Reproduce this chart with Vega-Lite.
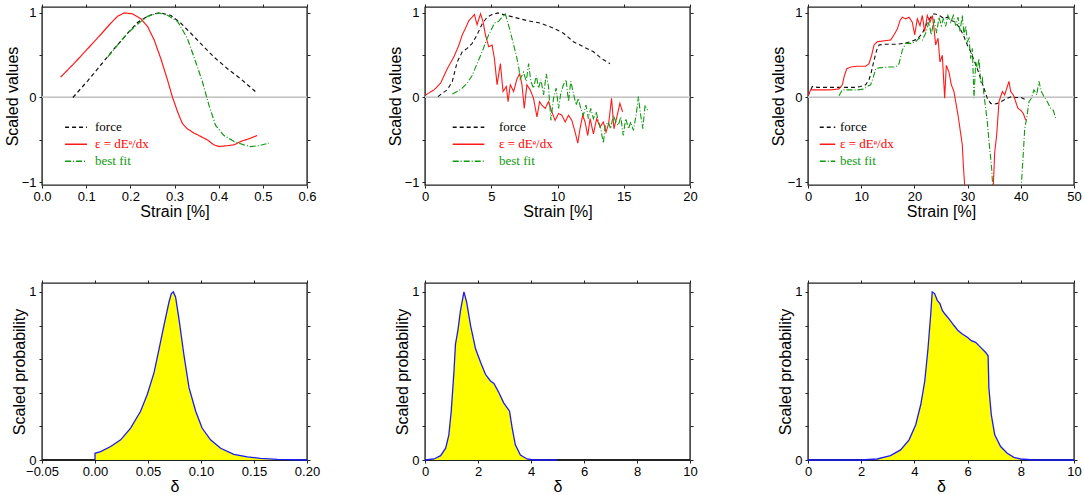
{
  "$schema": "https://vega.github.io/schema/vega-lite/v6.json",
  "padding": {"left": 3, "top": 2, "right": 0, "bottom": 0},
  "background": "white",
  "config": {
    "font": "Liberation Sans",
    "view": {"stroke": "#222222", "strokeWidth": 1.4},
    "axis": {
      "domain": false,
      "grid": false,
      "tickColor": "#222222",
      "tickSize": 3,
      "tickWidth": 1,
      "labelPadding": 3,
      "labelFont": "Liberation Sans",
      "labelFontSize": 13,
      "labelColor": "black",
      "labelFlush": false,
      "labelOverlap": false,
      "titleFont": "Liberation Sans",
      "titleFontSize": 16,
      "titleFontWeight": "normal",
      "titleColor": "black",
      "titlePadding": 2
    },
    "axisBottom": {"labelPadding": 2, "titlePadding": 0},
    "legend": {
      "orient": "none",
      "title": null,
      "symbolType": "stroke",
      "symbolStrokeWidth": 1.3,
      "labelFont": "Liberation Serif",
      "labelFontSize": 13,
      "rowPadding": 0,
      "clipHeight": 16.5,
      "labelColor": {"expr": "datum.label == 'force' ? 'black' : datum.label == 'best fit' ? '#119911' : '#ff0000'"}
    }
  },
  "resolve": {
    "scale": {"color": "independent", "strokeDash": "independent"},
    "legend": {"color": "independent", "strokeDash": "independent"}
  },
  "datasets": {
    "t1": [
      {"s": "force", "x": 0.070, "y": 0.0},
      {"s": "force", "x": 0.104, "y": 0.20},
      {"s": "force", "x": 0.134, "y": 0.39},
      {"s": "force", "x": 0.164, "y": 0.58},
      {"s": "force", "x": 0.194, "y": 0.76},
      {"s": "force", "x": 0.217, "y": 0.89},
      {"s": "force", "x": 0.239, "y": 0.96},
      {"s": "force", "x": 0.254, "y": 0.99},
      {"s": "force", "x": 0.269, "y": 1.0},
      {"s": "force", "x": 0.292, "y": 0.97},
      {"s": "force", "x": 0.314, "y": 0.88},
      {"s": "force", "x": 0.337, "y": 0.76},
      {"s": "force", "x": 0.359, "y": 0.64},
      {"s": "force", "x": 0.389, "y": 0.48},
      {"s": "force", "x": 0.420, "y": 0.34},
      {"s": "force", "x": 0.450, "y": 0.22},
      {"s": "force", "x": 0.483, "y": 0.07},
      {"s": "ε = dEᵉ/dx", "x": 0.042, "y": 0.24},
      {"s": "ε = dEᵉ/dx", "x": 0.074, "y": 0.41},
      {"s": "ε = dEᵉ/dx", "x": 0.104, "y": 0.58},
      {"s": "ε = dEᵉ/dx", "x": 0.134, "y": 0.75},
      {"s": "ε = dEᵉ/dx", "x": 0.156, "y": 0.88},
      {"s": "ε = dEᵉ/dx", "x": 0.171, "y": 0.96},
      {"s": "ε = dEᵉ/dx", "x": 0.186, "y": 1.0},
      {"s": "ε = dEᵉ/dx", "x": 0.205, "y": 0.99},
      {"s": "ε = dEᵉ/dx", "x": 0.224, "y": 0.93},
      {"s": "ε = dEᵉ/dx", "x": 0.239, "y": 0.84},
      {"s": "ε = dEᵉ/dx", "x": 0.254, "y": 0.68},
      {"s": "ε = dEᵉ/dx", "x": 0.269, "y": 0.46},
      {"s": "ε = dEᵉ/dx", "x": 0.284, "y": 0.21},
      {"s": "ε = dEᵉ/dx", "x": 0.295, "y": 0.01},
      {"s": "ε = dEᵉ/dx", "x": 0.307, "y": -0.17},
      {"s": "ε = dEᵉ/dx", "x": 0.318, "y": -0.31},
      {"s": "ε = dEᵉ/dx", "x": 0.329, "y": -0.37},
      {"s": "ε = dEᵉ/dx", "x": 0.344, "y": -0.42},
      {"s": "ε = dEᵉ/dx", "x": 0.359, "y": -0.46},
      {"s": "ε = dEᵉ/dx", "x": 0.374, "y": -0.50},
      {"s": "ε = dEᵉ/dx", "x": 0.389, "y": -0.56},
      {"s": "ε = dEᵉ/dx", "x": 0.401, "y": -0.58},
      {"s": "ε = dEᵉ/dx", "x": 0.420, "y": -0.57},
      {"s": "ε = dEᵉ/dx", "x": 0.435, "y": -0.56},
      {"s": "ε = dEᵉ/dx", "x": 0.450, "y": -0.52},
      {"s": "ε = dEᵉ/dx", "x": 0.468, "y": -0.49},
      {"s": "ε = dEᵉ/dx", "x": 0.487, "y": -0.45},
      {"s": "best fit", "x": 0.149, "y": 0.48},
      {"s": "best fit", "x": 0.171, "y": 0.62},
      {"s": "best fit", "x": 0.194, "y": 0.76},
      {"s": "best fit", "x": 0.217, "y": 0.87},
      {"s": "best fit", "x": 0.239, "y": 0.96},
      {"s": "best fit", "x": 0.265, "y": 1.0},
      {"s": "best fit", "x": 0.285, "y": 0.97},
      {"s": "best fit", "x": 0.307, "y": 0.90},
      {"s": "best fit", "x": 0.329, "y": 0.70},
      {"s": "best fit", "x": 0.348, "y": 0.42},
      {"s": "best fit", "x": 0.363, "y": 0.19},
      {"s": "best fit", "x": 0.378, "y": -0.09},
      {"s": "best fit", "x": 0.393, "y": -0.33},
      {"s": "best fit", "x": 0.412, "y": -0.45},
      {"s": "best fit", "x": 0.435, "y": -0.52},
      {"s": "best fit", "x": 0.457, "y": -0.56},
      {"s": "best fit", "x": 0.472, "y": -0.58},
      {"s": "best fit", "x": 0.491, "y": -0.57},
      {"s": "best fit", "x": 0.514, "y": -0.54}
    ],
    "t2": [
      {"s": "force", "x": 0.98, "y": 0.01},
      {"s": "force", "x": 1.3, "y": 0.05},
      {"s": "force", "x": 1.68, "y": 0.09},
      {"s": "force", "x": 2.06, "y": 0.19},
      {"s": "force", "x": 2.43, "y": 0.42},
      {"s": "force", "x": 2.81, "y": 0.54},
      {"s": "force", "x": 3.18, "y": 0.58},
      {"s": "force", "x": 3.56, "y": 0.64},
      {"s": "force", "x": 3.93, "y": 0.74},
      {"s": "force", "x": 4.31, "y": 0.87},
      {"s": "force", "x": 4.69, "y": 0.95},
      {"s": "force", "x": 5.06, "y": 0.98},
      {"s": "force", "x": 5.49, "y": 1.0},
      {"s": "force", "x": 5.94, "y": 0.98},
      {"s": "force", "x": 6.69, "y": 0.95},
      {"s": "force", "x": 7.69, "y": 0.91},
      {"s": "force", "x": 8.70, "y": 0.88},
      {"s": "force", "x": 9.70, "y": 0.82},
      {"s": "force", "x": 10.45, "y": 0.76},
      {"s": "force", "x": 11.2, "y": 0.66},
      {"s": "force", "x": 11.95, "y": 0.60},
      {"s": "force", "x": 12.71, "y": 0.54},
      {"s": "force", "x": 13.33, "y": 0.46},
      {"s": "force", "x": 13.96, "y": 0.40},
      {"s": "ε = dEᵉ/dx", "x": 0.05, "y": 0.03},
      {"s": "ε = dEᵉ/dx", "x": 0.68, "y": 0.09},
      {"s": "ε = dEᵉ/dx", "x": 1.18, "y": 0.17},
      {"s": "ε = dEᵉ/dx", "x": 1.68, "y": 0.34},
      {"s": "ε = dEᵉ/dx", "x": 2.18, "y": 0.48},
      {"s": "ε = dEᵉ/dx", "x": 2.56, "y": 0.62},
      {"s": "ε = dEᵉ/dx", "x": 2.81, "y": 0.74},
      {"s": "ε = dEᵉ/dx", "x": 3.06, "y": 0.82},
      {"s": "ε = dEᵉ/dx", "x": 3.31, "y": 0.91},
      {"s": "ε = dEᵉ/dx", "x": 3.56, "y": 0.95},
      {"s": "ε = dEᵉ/dx", "x": 3.73, "y": 0.98},
      {"s": "ε = dEᵉ/dx", "x": 3.93, "y": 0.86},
      {"s": "ε = dEᵉ/dx", "x": 4.19, "y": 0.99},
      {"s": "ε = dEᵉ/dx", "x": 4.39, "y": 0.89},
      {"s": "ε = dEᵉ/dx", "x": 4.56, "y": 0.74},
      {"s": "ε = dEᵉ/dx", "x": 4.81, "y": 0.60},
      {"s": "ε = dEᵉ/dx", "x": 5.06, "y": 0.62},
      {"s": "ε = dEᵉ/dx", "x": 5.24, "y": 0.46},
      {"s": "ε = dEᵉ/dx", "x": 5.44, "y": 0.15},
      {"s": "ε = dEᵉ/dx", "x": 5.69, "y": 0.40},
      {"s": "ε = dEᵉ/dx", "x": 5.89, "y": 0.07},
      {"s": "ε = dEᵉ/dx", "x": 6.14, "y": 0.13},
      {"s": "ε = dEᵉ/dx", "x": 6.27, "y": -0.05},
      {"s": "ε = dEᵉ/dx", "x": 6.44, "y": 0.15},
      {"s": "ε = dEᵉ/dx", "x": 6.69, "y": 0.07},
      {"s": "ε = dEᵉ/dx", "x": 6.94, "y": 0.22},
      {"s": "ε = dEᵉ/dx", "x": 7.14, "y": 0.28},
      {"s": "ε = dEᵉ/dx", "x": 7.32, "y": 0.15},
      {"s": "ε = dEᵉ/dx", "x": 7.49, "y": -0.13},
      {"s": "ε = dEᵉ/dx", "x": 7.69, "y": 0.15},
      {"s": "ε = dEᵉ/dx", "x": 7.94, "y": 0.09},
      {"s": "ε = dEᵉ/dx", "x": 8.19, "y": -0.01},
      {"s": "ε = dEᵉ/dx", "x": 8.45, "y": -0.23},
      {"s": "ε = dEᵉ/dx", "x": 8.65, "y": -0.05},
      {"s": "ε = dEᵉ/dx", "x": 8.82, "y": -0.09},
      {"s": "ε = dEᵉ/dx", "x": 9.07, "y": -0.13},
      {"s": "ε = dEᵉ/dx", "x": 9.32, "y": -0.05},
      {"s": "ε = dEᵉ/dx", "x": 9.57, "y": -0.17},
      {"s": "ε = dEᵉ/dx", "x": 9.82, "y": -0.27},
      {"s": "ε = dEᵉ/dx", "x": 10.08, "y": -0.19},
      {"s": "ε = dEᵉ/dx", "x": 10.33, "y": -0.21},
      {"s": "ε = dEᵉ/dx", "x": 10.58, "y": -0.29},
      {"s": "ε = dEᵉ/dx", "x": 10.83, "y": -0.21},
      {"s": "ε = dEᵉ/dx", "x": 11.08, "y": -0.27},
      {"s": "ε = dEᵉ/dx", "x": 11.33, "y": -0.41},
      {"s": "ε = dEᵉ/dx", "x": 11.53, "y": -0.54},
      {"s": "ε = dEᵉ/dx", "x": 11.70, "y": -0.37},
      {"s": "ε = dEᵉ/dx", "x": 11.90, "y": -0.21},
      {"s": "ε = dEᵉ/dx", "x": 12.08, "y": -0.29},
      {"s": "ε = dEᵉ/dx", "x": 12.28, "y": -0.45},
      {"s": "ε = dEᵉ/dx", "x": 12.46, "y": -0.25},
      {"s": "ε = dEᵉ/dx", "x": 12.71, "y": -0.43},
      {"s": "ε = dEᵉ/dx", "x": 12.96, "y": -0.25},
      {"s": "ε = dEᵉ/dx", "x": 13.21, "y": -0.35},
      {"s": "ε = dEᵉ/dx", "x": 13.46, "y": -0.29},
      {"s": "ε = dEᵉ/dx", "x": 13.66, "y": -0.41},
      {"s": "ε = dEᵉ/dx", "x": 13.86, "y": -0.31},
      {"s": "ε = dEᵉ/dx", "x": 14.08, "y": -0.01},
      {"s": "ε = dEᵉ/dx", "x": 14.26, "y": -0.37},
      {"s": "ε = dEᵉ/dx", "x": 14.51, "y": -0.21},
      {"s": "ε = dEᵉ/dx", "x": 14.71, "y": -0.07},
      {"s": "ε = dEᵉ/dx", "x": 14.91, "y": -0.17},
      {"s": "best fit", "x": 2.06, "y": 0.04},
      {"s": "best fit", "x": 2.43, "y": 0.07},
      {"s": "best fit", "x": 2.81, "y": 0.11},
      {"s": "best fit", "x": 3.18, "y": 0.17},
      {"s": "best fit", "x": 3.56, "y": 0.26},
      {"s": "best fit", "x": 3.93, "y": 0.40},
      {"s": "best fit", "x": 4.31, "y": 0.54},
      {"s": "best fit", "x": 4.69, "y": 0.70},
      {"s": "best fit", "x": 4.94, "y": 0.78},
      {"s": "best fit", "x": 5.24, "y": 0.88},
      {"s": "best fit", "x": 5.56, "y": 0.90},
      {"s": "best fit", "x": 5.81, "y": 0.95},
      {"s": "best fit", "x": 6.06, "y": 0.99},
      {"s": "best fit", "x": 6.24, "y": 0.89},
      {"s": "best fit", "x": 6.44, "y": 0.78},
      {"s": "best fit", "x": 6.69, "y": 0.62},
      {"s": "best fit", "x": 6.89, "y": 0.50},
      {"s": "best fit", "x": 7.07, "y": 0.36},
      {"s": "best fit", "x": 7.19, "y": 0.22},
      {"s": "best fit", "x": 7.44, "y": 0.30},
      {"s": "best fit", "x": 7.64, "y": 0.19},
      {"s": "best fit", "x": 7.82, "y": 0.40},
      {"s": "best fit", "x": 7.99, "y": 0.19},
      {"s": "best fit", "x": 8.19, "y": 0.11},
      {"s": "best fit", "x": 8.40, "y": 0.26},
      {"s": "best fit", "x": 8.57, "y": 0.11},
      {"s": "best fit", "x": 8.75, "y": 0.21},
      {"s": "best fit", "x": 8.95, "y": 0.03},
      {"s": "best fit", "x": 9.15, "y": 0.28},
      {"s": "best fit", "x": 9.32, "y": 0.13},
      {"s": "best fit", "x": 9.50, "y": -0.27},
      {"s": "best fit", "x": 9.70, "y": -0.01},
      {"s": "best fit", "x": 9.90, "y": 0.11},
      {"s": "best fit", "x": 10.08, "y": -0.13},
      {"s": "best fit", "x": 10.25, "y": 0.05},
      {"s": "best fit", "x": 10.45, "y": 0.15},
      {"s": "best fit", "x": 10.65, "y": 0.21},
      {"s": "best fit", "x": 10.83, "y": -0.05},
      {"s": "best fit", "x": 11.0, "y": 0.19},
      {"s": "best fit", "x": 11.2, "y": 0.05},
      {"s": "best fit", "x": 11.4, "y": -0.09},
      {"s": "best fit", "x": 11.58, "y": -0.01},
      {"s": "best fit", "x": 11.75, "y": -0.13},
      {"s": "best fit", "x": 11.95, "y": -0.21},
      {"s": "best fit", "x": 12.15, "y": -0.09},
      {"s": "best fit", "x": 12.33, "y": -0.25},
      {"s": "best fit", "x": 12.51, "y": -0.13},
      {"s": "best fit", "x": 12.71, "y": -0.25},
      {"s": "best fit", "x": 12.91, "y": -0.17},
      {"s": "best fit", "x": 13.08, "y": -0.27},
      {"s": "best fit", "x": 13.26, "y": -0.37},
      {"s": "best fit", "x": 13.46, "y": -0.54},
      {"s": "best fit", "x": 13.61, "y": -0.33},
      {"s": "best fit", "x": 13.83, "y": -0.29},
      {"s": "best fit", "x": 14.01, "y": -0.37},
      {"s": "best fit", "x": 14.21, "y": -0.21},
      {"s": "best fit", "x": 14.41, "y": -0.29},
      {"s": "best fit", "x": 14.58, "y": -0.33},
      {"s": "best fit", "x": 14.78, "y": -0.23},
      {"s": "best fit", "x": 14.96, "y": -0.45},
      {"s": "best fit", "x": 15.15, "y": -0.25},
      {"s": "best fit", "x": 15.36, "y": -0.37},
      {"s": "best fit", "x": 15.53, "y": -0.29},
      {"s": "best fit", "x": 15.73, "y": -0.39},
      {"s": "best fit", "x": 15.93, "y": -0.21},
      {"s": "best fit", "x": 16.11, "y": 0.01},
      {"s": "best fit", "x": 16.24, "y": -0.17},
      {"s": "best fit", "x": 16.44, "y": -0.37},
      {"s": "best fit", "x": 16.61, "y": -0.09},
      {"s": "best fit", "x": 16.79, "y": -0.15}
    ],
    "t3": [
      {"s": "force", "x": 0.0, "y": 0.02},
      {"s": "force", "x": 0.81, "y": 0.13},
      {"s": "force", "x": 1.75, "y": 0.12},
      {"s": "force", "x": 3.63, "y": 0.12},
      {"s": "force", "x": 6.14, "y": 0.12},
      {"s": "force", "x": 8.65, "y": 0.12},
      {"s": "force", "x": 9.9, "y": 0.13},
      {"s": "force", "x": 10.84, "y": 0.15},
      {"s": "force", "x": 11.47, "y": 0.21},
      {"s": "force", "x": 11.9, "y": 0.30},
      {"s": "force", "x": 12.41, "y": 0.44},
      {"s": "force", "x": 12.91, "y": 0.56},
      {"s": "force", "x": 13.35, "y": 0.62},
      {"s": "force", "x": 14.29, "y": 0.63},
      {"s": "force", "x": 15.54, "y": 0.63},
      {"s": "force", "x": 16.79, "y": 0.63},
      {"s": "force", "x": 18.04, "y": 0.64},
      {"s": "force", "x": 19.3, "y": 0.66},
      {"s": "force", "x": 20.55, "y": 0.69},
      {"s": "force", "x": 21.49, "y": 0.76},
      {"s": "force", "x": 22.3, "y": 0.87},
      {"s": "force", "x": 23.06, "y": 0.95},
      {"s": "force", "x": 23.68, "y": 0.99},
      {"s": "force", "x": 24.31, "y": 0.98},
      {"s": "force", "x": 24.94, "y": 0.96},
      {"s": "force", "x": 25.56, "y": 0.93},
      {"s": "force", "x": 26.19, "y": 0.95},
      {"s": "force", "x": 26.82, "y": 0.91},
      {"s": "force", "x": 27.44, "y": 0.90},
      {"s": "force", "x": 28.07, "y": 0.86},
      {"s": "force", "x": 28.7, "y": 0.80},
      {"s": "force", "x": 29.32, "y": 0.72},
      {"s": "force", "x": 29.95, "y": 0.62},
      {"s": "force", "x": 30.58, "y": 0.54},
      {"s": "force", "x": 31.2, "y": 0.44},
      {"s": "force", "x": 31.83, "y": 0.34},
      {"s": "force", "x": 32.46, "y": 0.22},
      {"s": "force", "x": 33.08, "y": 0.11},
      {"s": "force", "x": 33.71, "y": -0.01},
      {"s": "force", "x": 34.34, "y": -0.07},
      {"s": "force", "x": 34.96, "y": -0.08},
      {"s": "force", "x": 35.59, "y": -0.07},
      {"s": "force", "x": 36.22, "y": -0.05},
      {"s": "force", "x": 36.84, "y": -0.03},
      {"s": "force", "x": 37.47, "y": -0.01},
      {"s": "force", "x": 38.22, "y": 0.01},
      {"s": "force", "x": 39.04, "y": 0.0},
      {"s": "force", "x": 40.0, "y": 0.0},
      {"s": "force", "x": 40.73, "y": -0.02},
      {"s": "ε = dEᵉ/dx", "x": 0.0, "y": 0.02},
      {"s": "ε = dEᵉ/dx", "x": 0.5, "y": 0.09},
      {"s": "ε = dEᵉ/dx", "x": 1.13, "y": 0.09},
      {"s": "ε = dEᵉ/dx", "x": 2.38, "y": 0.09},
      {"s": "ε = dEᵉ/dx", "x": 4.26, "y": 0.09},
      {"s": "ε = dEᵉ/dx", "x": 5.83, "y": 0.10},
      {"s": "ε = dEᵉ/dx", "x": 6.45, "y": 0.15},
      {"s": "ε = dEᵉ/dx", "x": 6.77, "y": 0.24},
      {"s": "ε = dEᵉ/dx", "x": 7.27, "y": 0.34},
      {"s": "ε = dEᵉ/dx", "x": 8.02, "y": 0.36},
      {"s": "ε = dEᵉ/dx", "x": 9.27, "y": 0.37},
      {"s": "ε = dEᵉ/dx", "x": 10.84, "y": 0.37},
      {"s": "ε = dEᵉ/dx", "x": 11.47, "y": 0.40},
      {"s": "ε = dEᵉ/dx", "x": 11.97, "y": 0.50},
      {"s": "ε = dEᵉ/dx", "x": 12.41, "y": 0.62},
      {"s": "ε = dEᵉ/dx", "x": 13.03, "y": 0.66},
      {"s": "ε = dEᵉ/dx", "x": 14.29, "y": 0.67},
      {"s": "ε = dEᵉ/dx", "x": 15.54, "y": 0.68},
      {"s": "ε = dEᵉ/dx", "x": 16.17, "y": 0.74},
      {"s": "ε = dEᵉ/dx", "x": 16.79, "y": 0.81},
      {"s": "ε = dEᵉ/dx", "x": 17.29, "y": 0.91},
      {"s": "ε = dEᵉ/dx", "x": 17.73, "y": 0.95},
      {"s": "ε = dEᵉ/dx", "x": 18.36, "y": 0.93},
      {"s": "ε = dEᵉ/dx", "x": 18.98, "y": 0.95},
      {"s": "ε = dEᵉ/dx", "x": 19.61, "y": 0.89},
      {"s": "ε = dEᵉ/dx", "x": 20.05, "y": 0.74},
      {"s": "ε = dEᵉ/dx", "x": 20.55, "y": 0.93},
      {"s": "ε = dEᵉ/dx", "x": 21.05, "y": 0.85},
      {"s": "ε = dEᵉ/dx", "x": 21.49, "y": 0.97},
      {"s": "ε = dEᵉ/dx", "x": 21.93, "y": 0.78},
      {"s": "ε = dEᵉ/dx", "x": 22.43, "y": 0.97},
      {"s": "ε = dEᵉ/dx", "x": 22.93, "y": 0.89},
      {"s": "ε = dEᵉ/dx", "x": 23.37, "y": 0.97},
      {"s": "ε = dEᵉ/dx", "x": 23.68, "y": 0.82},
      {"s": "ε = dEᵉ/dx", "x": 23.99, "y": 0.62},
      {"s": "ε = dEᵉ/dx", "x": 24.44, "y": 0.70},
      {"s": "ε = dEᵉ/dx", "x": 24.81, "y": 0.42},
      {"s": "ε = dEᵉ/dx", "x": 25.25, "y": 0.50},
      {"s": "ε = dEᵉ/dx", "x": 25.69, "y": -0.01},
      {"s": "ε = dEᵉ/dx", "x": 26.0, "y": 0.38},
      {"s": "ε = dEᵉ/dx", "x": 26.5, "y": 0.30},
      {"s": "ε = dEᵉ/dx", "x": 26.94, "y": 0.15},
      {"s": "ε = dEᵉ/dx", "x": 27.44, "y": 0.07},
      {"s": "ε = dEᵉ/dx", "x": 27.76, "y": -0.05},
      {"s": "ε = dEᵉ/dx", "x": 28.2, "y": -0.21},
      {"s": "ε = dEᵉ/dx", "x": 28.57, "y": -0.37},
      {"s": "ε = dEᵉ/dx", "x": 29.0, "y": -0.56},
      {"s": "ε = dEᵉ/dx", "x": 29.2, "y": -0.80},
      {"s": "ε = dEᵉ/dx", "x": 29.45, "y": -1.04},
      {"s": "ε = dEᵉ/dx", "x": 30.5, "y": -1.8},
      {"s": "ε = dEᵉ/dx", "x": 32.2, "y": -2.5},
      {"s": "ε = dEᵉ/dx", "x": 33.9, "y": -1.8},
      {"s": "ε = dEᵉ/dx", "x": 34.84, "y": -1.04},
      {"s": "ε = dEᵉ/dx", "x": 35.09, "y": -0.65},
      {"s": "ε = dEᵉ/dx", "x": 35.46, "y": -0.45},
      {"s": "ε = dEᵉ/dx", "x": 35.9, "y": -0.05},
      {"s": "ε = dEᵉ/dx", "x": 36.53, "y": 0.07},
      {"s": "ε = dEᵉ/dx", "x": 36.97, "y": 0.03},
      {"s": "ε = dEᵉ/dx", "x": 37.47, "y": 0.13},
      {"s": "ε = dEᵉ/dx", "x": 37.78, "y": 0.19},
      {"s": "ε = dEᵉ/dx", "x": 38.1, "y": 0.07},
      {"s": "ε = dEᵉ/dx", "x": 38.6, "y": 0.03},
      {"s": "ε = dEᵉ/dx", "x": 39.04, "y": -0.05},
      {"s": "ε = dEᵉ/dx", "x": 39.47, "y": -0.13},
      {"s": "ε = dEᵉ/dx", "x": 39.97, "y": -0.15},
      {"s": "ε = dEᵉ/dx", "x": 40.48, "y": -0.19},
      {"s": "ε = dEᵉ/dx", "x": 40.92, "y": -0.27},
      {"s": "best fit", "x": 5.83, "y": 0.02},
      {"s": "best fit", "x": 6.45, "y": 0.09},
      {"s": "best fit", "x": 7.39, "y": 0.09},
      {"s": "best fit", "x": 9.27, "y": 0.09},
      {"s": "best fit", "x": 10.53, "y": 0.10},
      {"s": "best fit", "x": 11.15, "y": 0.13},
      {"s": "best fit", "x": 11.78, "y": 0.15},
      {"s": "best fit", "x": 12.28, "y": 0.24},
      {"s": "best fit", "x": 12.72, "y": 0.34},
      {"s": "best fit", "x": 13.35, "y": 0.35},
      {"s": "best fit", "x": 14.91, "y": 0.36},
      {"s": "best fit", "x": 16.48, "y": 0.36},
      {"s": "best fit", "x": 17.11, "y": 0.40},
      {"s": "best fit", "x": 17.73, "y": 0.56},
      {"s": "best fit", "x": 18.36, "y": 0.64},
      {"s": "best fit", "x": 19.3, "y": 0.64},
      {"s": "best fit", "x": 20.24, "y": 0.66},
      {"s": "best fit", "x": 20.86, "y": 0.70},
      {"s": "best fit", "x": 21.49, "y": 0.68},
      {"s": "best fit", "x": 22.12, "y": 0.76},
      {"s": "best fit", "x": 22.74, "y": 0.89},
      {"s": "best fit", "x": 23.18, "y": 0.74},
      {"s": "best fit", "x": 23.68, "y": 0.93},
      {"s": "best fit", "x": 24.18, "y": 0.76},
      {"s": "best fit", "x": 24.62, "y": 0.95},
      {"s": "best fit", "x": 25.06, "y": 0.85},
      {"s": "best fit", "x": 25.44, "y": 0.93},
      {"s": "best fit", "x": 25.88, "y": 0.84},
      {"s": "best fit", "x": 26.31, "y": 0.97},
      {"s": "best fit", "x": 26.82, "y": 0.89},
      {"s": "best fit", "x": 27.32, "y": 0.97},
      {"s": "best fit", "x": 27.76, "y": 0.85},
      {"s": "best fit", "x": 28.2, "y": 0.95},
      {"s": "best fit", "x": 28.57, "y": 0.78},
      {"s": "best fit", "x": 29.0, "y": 0.97},
      {"s": "best fit", "x": 29.32, "y": 0.74},
      {"s": "best fit", "x": 29.64, "y": 0.85},
      {"s": "best fit", "x": 29.95, "y": 0.66},
      {"s": "best fit", "x": 30.26, "y": 0.70},
      {"s": "best fit", "x": 30.58, "y": 0.46},
      {"s": "best fit", "x": 30.89, "y": 0.58},
      {"s": "best fit", "x": 31.2, "y": -0.01},
      {"s": "best fit", "x": 31.52, "y": 0.42},
      {"s": "best fit", "x": 31.83, "y": 0.34},
      {"s": "best fit", "x": 32.14, "y": 0.46},
      {"s": "best fit", "x": 32.46, "y": 0.19},
      {"s": "best fit", "x": 32.77, "y": 0.23},
      {"s": "best fit", "x": 33.08, "y": 0.03},
      {"s": "best fit", "x": 33.4, "y": -0.13},
      {"s": "best fit", "x": 33.71, "y": -0.29},
      {"s": "best fit", "x": 34.02, "y": -0.52},
      {"s": "best fit", "x": 34.34, "y": -0.72},
      {"s": "best fit", "x": 34.52, "y": -0.84},
      {"s": "best fit", "x": 34.71, "y": -1.04},
      {"s": "best fit", "x": 35.8, "y": -1.8},
      {"s": "best fit", "x": 37.4, "y": -2.5},
      {"s": "best fit", "x": 39.1, "y": -1.8},
      {"s": "best fit", "x": 40.1, "y": -1.04},
      {"s": "best fit", "x": 40.48, "y": -0.65},
      {"s": "best fit", "x": 40.73, "y": -0.37},
      {"s": "best fit", "x": 41.1, "y": -0.25},
      {"s": "best fit", "x": 41.54, "y": -0.05},
      {"s": "best fit", "x": 41.98, "y": -0.01},
      {"s": "best fit", "x": 42.48, "y": 0.09},
      {"s": "best fit", "x": 42.98, "y": 0.03},
      {"s": "best fit", "x": 43.42, "y": 0.19},
      {"s": "best fit", "x": 43.86, "y": 0.07},
      {"s": "best fit", "x": 44.36, "y": 0.01},
      {"s": "best fit", "x": 44.99, "y": -0.05},
      {"s": "best fit", "x": 45.61, "y": -0.13},
      {"s": "best fit", "x": 46.11, "y": -0.15},
      {"s": "best fit", "x": 46.55, "y": -0.25}
    ],
    "b1": [
      {"x": 0.0, "y": 0.0},
      {"x": 0.0, "y": 0.04},
      {"x": 0.0053, "y": 0.05},
      {"x": 0.0148, "y": 0.08},
      {"x": 0.0242, "y": 0.12},
      {"x": 0.0336, "y": 0.19},
      {"x": 0.043, "y": 0.29},
      {"x": 0.0493, "y": 0.39},
      {"x": 0.0557, "y": 0.52},
      {"x": 0.0604, "y": 0.66},
      {"x": 0.065, "y": 0.80},
      {"x": 0.0698, "y": 0.94},
      {"x": 0.072, "y": 0.99},
      {"x": 0.0739, "y": 1.0},
      {"x": 0.076, "y": 0.97},
      {"x": 0.0792, "y": 0.84},
      {"x": 0.084, "y": 0.62},
      {"x": 0.0887, "y": 0.43},
      {"x": 0.095, "y": 0.29},
      {"x": 0.101, "y": 0.19},
      {"x": 0.109, "y": 0.12},
      {"x": 0.1185, "y": 0.07},
      {"x": 0.131, "y": 0.034},
      {"x": 0.1437, "y": 0.018},
      {"x": 0.156, "y": 0.01},
      {"x": 0.172, "y": 0.004},
      {"x": 0.2, "y": 0.0}
    ],
    "b2": [
      {"x": 0.0, "y": 0.0},
      {"x": 0.34, "y": 0.006},
      {"x": 0.59, "y": 0.026},
      {"x": 0.78, "y": 0.07},
      {"x": 0.9, "y": 0.15},
      {"x": 0.99, "y": 0.29},
      {"x": 1.09, "y": 0.52},
      {"x": 1.15, "y": 0.69},
      {"x": 1.24, "y": 0.77},
      {"x": 1.34, "y": 0.89},
      {"x": 1.47, "y": 1.0},
      {"x": 1.57, "y": 0.94},
      {"x": 1.72, "y": 0.80},
      {"x": 1.91, "y": 0.66},
      {"x": 2.10, "y": 0.58},
      {"x": 2.28, "y": 0.51},
      {"x": 2.47, "y": 0.47},
      {"x": 2.60, "y": 0.455},
      {"x": 2.79, "y": 0.40},
      {"x": 2.97, "y": 0.34},
      {"x": 3.19, "y": 0.29},
      {"x": 3.29, "y": 0.19},
      {"x": 3.41, "y": 0.09},
      {"x": 3.60, "y": 0.03},
      {"x": 3.85, "y": 0.006},
      {"x": 4.1, "y": 0.0},
      {"x": 4.98, "y": 0.0}
    ],
    "b3": [
      {"x": 0.0, "y": 0.0},
      {"x": 1.98, "y": 0.0},
      {"x": 2.6, "y": 0.006},
      {"x": 3.1, "y": 0.026},
      {"x": 3.48, "y": 0.06},
      {"x": 3.8, "y": 0.12},
      {"x": 4.05, "y": 0.21},
      {"x": 4.24, "y": 0.33},
      {"x": 4.39, "y": 0.47},
      {"x": 4.51, "y": 0.66},
      {"x": 4.61, "y": 0.86},
      {"x": 4.67, "y": 1.0},
      {"x": 4.76, "y": 0.99},
      {"x": 4.86, "y": 0.95},
      {"x": 4.96, "y": 0.93},
      {"x": 5.05, "y": 0.89},
      {"x": 5.14, "y": 0.87},
      {"x": 5.30, "y": 0.84},
      {"x": 5.49, "y": 0.80},
      {"x": 5.64, "y": 0.77},
      {"x": 5.80, "y": 0.75},
      {"x": 5.99, "y": 0.73},
      {"x": 6.14, "y": 0.71},
      {"x": 6.30, "y": 0.70},
      {"x": 6.49, "y": 0.67},
      {"x": 6.68, "y": 0.64},
      {"x": 6.77, "y": 0.62},
      {"x": 6.80, "y": 0.43},
      {"x": 6.89, "y": 0.27},
      {"x": 7.02, "y": 0.15},
      {"x": 7.24, "y": 0.08},
      {"x": 7.49, "y": 0.04},
      {"x": 7.74, "y": 0.016},
      {"x": 7.99, "y": 0.006},
      {"x": 8.5, "y": 0.0},
      {"x": 10.0, "y": 0.0}
    ]
  },
  "columns": 3,
  "bounds": "flush",
  "spacing": {"row": 98, "column": 118},
  "concat": [
    {
      "width": 265, "height": 178,
      "data": {"name": "t1"},
      "layer": [
        {
          "mark": {"type": "rule", "color": "#c4c4c4", "strokeWidth": 1},
          "encoding": {
            "x": {"datum": 0, "type": "quantitative", "scale": {"domain": [0, 0.6], "nice": false, "zero": false},
                  "axis": {"orient": "top", "labels": false, "title": null, "values": [0, 0.1, 0.2, 0.3, 0.4, 0.5, 0.6]}},
            "x2": {"datum": 0.6},
            "y": {"datum": 0, "type": "quantitative", "scale": {"domain": [-1.035, 1.07], "nice": false, "zero": false},
                  "axis": {"orient": "right", "labels": false, "title": null, "values": [-1, -0.5, 0, 0.5, 1]}}
          }
        },
        {
          "mark": {"type": "line", "strokeWidth": 1.2, "clip": true},
          "encoding": {
            "x": {"field": "x", "type": "quantitative", "scale": {"domain": [0, 0.6], "nice": false, "zero": false},
                  "axis": {"orient": "bottom", "title": "Strain [%]", "values": [0, 0.1, 0.2, 0.3, 0.4, 0.5, 0.6], "format": ".1f"}},
            "y": {"field": "y", "type": "quantitative", "scale": {"domain": [-1.035, 1.07], "nice": false, "zero": false},
                  "axis": {"orient": "left", "title": "Scaled values", "values": [-1, -0.5, 0, 0.5, 1],
                           "labelExpr": "datum.value == 1 ? '1' : datum.value == 0 ? '0' : datum.value == -1 ? '−1' : ''",
                           "minExtent": 19, "maxExtent": 19, "titlePadding": 3}},
            "color": {"field": "s", "type": "nominal",
                      "scale": {"domain": ["force", "ε = dEᵉ/dx", "best fit"], "range": ["#111111", "#ff1a1a", "#119911"]},
                      "legend": {"legendX": 22, "legendY": 112, "symbolSize": 480, "labelOffset": 7}},
            "strokeDash": {"field": "s", "type": "nominal",
                           "scale": {"domain": ["force", "ε = dEᵉ/dx", "best fit"], "range": [[4, 3], [1, 0], [6, 2, 1, 2]]},
                           "legend": {"legendX": 22, "legendY": 112, "symbolSize": 480, "labelOffset": 7}}
          }
        }
      ],
      "resolve": {"axis": {"x": "independent", "y": "independent"}}
    },
    {
      "width": 265, "height": 178,
      "data": {"name": "t2"},
      "layer": [
        {
          "mark": {"type": "rule", "color": "#c4c4c4", "strokeWidth": 1},
          "encoding": {
            "x": {"datum": 0, "type": "quantitative", "scale": {"domain": [0, 20], "nice": false, "zero": false},
                  "axis": {"orient": "top", "labels": false, "title": null, "values": [0, 5, 10, 15, 20]}},
            "x2": {"datum": 20},
            "y": {"datum": 0, "type": "quantitative", "scale": {"domain": [-1.035, 1.07], "nice": false, "zero": false},
                  "axis": {"orient": "right", "labels": false, "title": null, "values": [-1, -0.5, 0, 0.5, 1]}}
          }
        },
        {
          "mark": {"type": "line", "strokeWidth": 1.1, "clip": true},
          "encoding": {
            "x": {"field": "x", "type": "quantitative", "scale": {"domain": [0, 20], "nice": false, "zero": false},
                  "axis": {"orient": "bottom", "title": "Strain [%]", "values": [0, 5, 10, 15, 20]}},
            "y": {"field": "y", "type": "quantitative", "scale": {"domain": [-1.035, 1.07], "nice": false, "zero": false},
                  "axis": {"orient": "left", "title": "Scaled values", "values": [-1, -0.5, 0, 0.5, 1],
                           "labelExpr": "datum.value == 1 ? '1' : datum.value == 0 ? '0' : datum.value == -1 ? '−1' : ''",
                           "minExtent": 19, "maxExtent": 19, "titlePadding": 3}},
            "color": {"field": "s", "type": "nominal",
                      "scale": {"domain": ["force", "ε = dEᵉ/dx", "best fit"], "range": ["#111111", "#ff1a1a", "#119911"]},
                      "legend": {"legendX": 27, "legendY": 112, "symbolSize": 1000, "labelOffset": 14}},
            "strokeDash": {"field": "s", "type": "nominal",
                           "scale": {"domain": ["force", "ε = dEᵉ/dx", "best fit"], "range": [[4, 3], [1, 0], [6, 2, 1, 2]]},
                           "legend": {"legendX": 27, "legendY": 112, "symbolSize": 1000, "labelOffset": 14}}
          }
        }
      ],
      "resolve": {"axis": {"x": "independent", "y": "independent"}}
    },
    {
      "width": 266, "height": 178,
      "data": {"name": "t3"},
      "layer": [
        {
          "mark": {"type": "rule", "color": "#c4c4c4", "strokeWidth": 1},
          "encoding": {
            "x": {"datum": 0, "type": "quantitative", "scale": {"domain": [0, 50], "nice": false, "zero": false},
                  "axis": {"orient": "top", "labels": false, "title": null, "values": [0, 10, 20, 30, 40, 50]}},
            "x2": {"datum": 50},
            "y": {"datum": 0, "type": "quantitative", "scale": {"domain": [-1.035, 1.07], "nice": false, "zero": false},
                  "axis": {"orient": "right", "labels": false, "title": null, "values": [-1, -0.5, 0, 0.5, 1]}}
          }
        },
        {
          "mark": {"type": "line", "strokeWidth": 1.1, "clip": true},
          "encoding": {
            "x": {"field": "x", "type": "quantitative", "scale": {"domain": [0, 50], "nice": false, "zero": false},
                  "axis": {"orient": "bottom", "title": "Strain [%]", "values": [0, 10, 20, 30, 40, 50]}},
            "y": {"field": "y", "type": "quantitative", "scale": {"domain": [-1.035, 1.07], "nice": false, "zero": false},
                  "axis": {"orient": "left", "title": "Scaled values", "values": [-1, -0.5, 0, 0.5, 1],
                           "labelExpr": "datum.value == 1 ? '1' : datum.value == 0 ? '0' : datum.value == -1 ? '−1' : ''",
                           "minExtent": 19, "maxExtent": 19, "titlePadding": 3}},
            "color": {"field": "s", "type": "nominal",
                      "scale": {"domain": ["force", "ε = dEᵉ/dx", "best fit"], "range": ["#111111", "#ff1a1a", "#119911"]},
                      "legend": {"legendX": 11, "legendY": 112, "symbolSize": 240, "labelOffset": 4}},
            "strokeDash": {"field": "s", "type": "nominal",
                           "scale": {"domain": ["force", "ε = dEᵉ/dx", "best fit"], "range": [[4, 3], [1, 0], [6, 2, 1, 2]]},
                           "legend": {"legendX": 11, "legendY": 112, "symbolSize": 240, "labelOffset": 4}}
          }
        }
      ],
      "resolve": {"axis": {"x": "independent", "y": "independent"}}
    },
    {
      "width": 265, "height": 177,
      "data": {"name": "b1"},
      "layer": [
        {
          "mark": {"type": "rule", "color": "#222222", "strokeWidth": 1},
          "encoding": {
            "x": {"datum": -0.05, "type": "quantitative", "scale": {"domain": [-0.05, 0.2], "nice": false, "zero": false},
                  "axis": {"orient": "top", "labels": false, "title": null, "values": [-0.05, 0, 0.05, 0.1, 0.15, 0.2]}},
            "x2": {"datum": 0.2},
            "y": {"datum": 0, "type": "quantitative", "scale": {"domain": [0, 1.053], "nice": false, "zero": false},
                  "axis": {"orient": "right", "labels": false, "title": null, "values": [0, 0.2, 0.4, 0.6, 0.8, 1]}}
          }
        },
        {
          "mark": {"type": "area", "color": "#ffff00", "opacity": 1, "line": {"color": "#1a1aff", "strokeWidth": 1.3}},
          "encoding": {
            "x": {"field": "x", "type": "quantitative", "scale": {"domain": [-0.05, 0.2], "nice": false, "zero": false},
                  "axis": {"orient": "bottom", "title": "δ", "values": [-0.05, 0, 0.05, 0.1, 0.15, 0.2], "format": ".2f"}},
            "y": {"field": "y", "type": "quantitative", "scale": {"domain": [0, 1.053], "nice": false, "zero": false},
                  "axis": {"orient": "left", "title": "Scaled probability", "values": [0, 0.2, 0.4, 0.6, 0.8, 1],
                           "labelExpr": "datum.value == 1 ? '1' : datum.value == 0 ? '0' : ''",
                           "minExtent": 12, "maxExtent": 12, "titlePadding": 3}}
          }
        }
      ],
      "resolve": {"axis": {"x": "independent", "y": "independent"}}
    },
    {
      "width": 265, "height": 177,
      "data": {"name": "b2"},
      "layer": [
        {
          "mark": {"type": "rule", "color": "#222222", "strokeWidth": 1},
          "encoding": {
            "x": {"datum": 0, "type": "quantitative", "scale": {"domain": [0, 10], "nice": false, "zero": false},
                  "axis": {"orient": "top", "labels": false, "title": null, "values": [0, 2, 4, 6, 8, 10]}},
            "x2": {"datum": 10},
            "y": {"datum": 0, "type": "quantitative", "scale": {"domain": [0, 1.053], "nice": false, "zero": false},
                  "axis": {"orient": "right", "labels": false, "title": null, "values": [0, 0.2, 0.4, 0.6, 0.8, 1]}}
          }
        },
        {
          "mark": {"type": "area", "color": "#ffff00", "opacity": 1, "line": {"color": "#1a1aff", "strokeWidth": 1.3}},
          "encoding": {
            "x": {"field": "x", "type": "quantitative", "scale": {"domain": [0, 10], "nice": false, "zero": false},
                  "axis": {"orient": "bottom", "title": "δ", "values": [0, 2, 4, 6, 8, 10]}},
            "y": {"field": "y", "type": "quantitative", "scale": {"domain": [0, 1.053], "nice": false, "zero": false},
                  "axis": {"orient": "left", "title": "Scaled probability", "values": [0, 0.2, 0.4, 0.6, 0.8, 1],
                           "labelExpr": "datum.value == 1 ? '1' : datum.value == 0 ? '0' : ''",
                           "minExtent": 12, "maxExtent": 12, "titlePadding": 3}}
          }
        }
      ],
      "resolve": {"axis": {"x": "independent", "y": "independent"}}
    },
    {
      "width": 266, "height": 177,
      "data": {"name": "b3"},
      "layer": [
        {
          "mark": {"type": "rule", "color": "#222222", "strokeWidth": 1},
          "encoding": {
            "x": {"datum": 0, "type": "quantitative", "scale": {"domain": [0, 10], "nice": false, "zero": false},
                  "axis": {"orient": "top", "labels": false, "title": null, "values": [0, 2, 4, 6, 8, 10]}},
            "x2": {"datum": 10},
            "y": {"datum": 0, "type": "quantitative", "scale": {"domain": [0, 1.053], "nice": false, "zero": false},
                  "axis": {"orient": "right", "labels": false, "title": null, "values": [0, 0.2, 0.4, 0.6, 0.8, 1]}}
          }
        },
        {
          "mark": {"type": "area", "color": "#ffff00", "opacity": 1, "line": {"color": "#1a1aff", "strokeWidth": 1.3}},
          "encoding": {
            "x": {"field": "x", "type": "quantitative", "scale": {"domain": [0, 10], "nice": false, "zero": false},
                  "axis": {"orient": "bottom", "title": "δ", "values": [0, 2, 4, 6, 8, 10]}},
            "y": {"field": "y", "type": "quantitative", "scale": {"domain": [0, 1.053], "nice": false, "zero": false},
                  "axis": {"orient": "left", "title": "Scaled probability", "values": [0, 0.2, 0.4, 0.6, 0.8, 1],
                           "labelExpr": "datum.value == 1 ? '1' : datum.value == 0 ? '0' : ''",
                           "minExtent": 12, "maxExtent": 12, "titlePadding": 3}}
          }
        }
      ],
      "resolve": {"axis": {"x": "independent", "y": "independent"}}
    }
  ]
}
